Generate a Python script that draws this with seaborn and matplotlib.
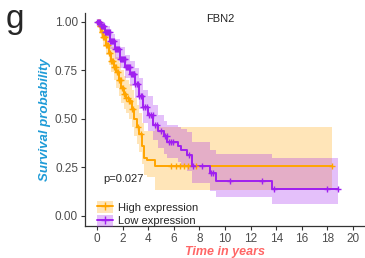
import numpy as np
import matplotlib
matplotlib.use("Agg")
import matplotlib.pyplot as plt
import seaborn as sns
from matplotlib.patches import Patch
from matplotlib.lines import Line2D

# Kaplan-Meier curves (FBN2)
high_t = [0, 0.15, 0.3, 0.5, 0.7, 0.9, 1.1, 1.3, 1.5, 1.7, 1.9, 2.1, 2.3, 2.5, 2.7, 2.9, 3.1, 3.3, 3.5, 3.7, 3.9, 4.5]
high_s = [1.0, 0.98, 0.95, 0.92, 0.88, 0.84, 0.80, 0.77, 0.74, 0.70, 0.66, 0.63, 0.61, 0.59, 0.55, 0.50, 0.46, 0.42, 0.36, 0.30, 0.29, 0.256]
high_lo = [1.0, 0.95, 0.91, 0.87, 0.83, 0.78, 0.74, 0.70, 0.66, 0.62, 0.58, 0.55, 0.53, 0.50, 0.46, 0.41, 0.37, 0.33, 0.27, 0.21, 0.20, 0.135]
high_hi = [1.0, 1.0, 0.99, 0.97, 0.94, 0.91, 0.87, 0.85, 0.82, 0.79, 0.75, 0.72, 0.70, 0.68, 0.65, 0.61, 0.57, 0.53, 0.48, 0.44, 0.44, 0.46]
high_end = 18.4
high_cens = [0.05, 0.12, 0.2, 0.27, 0.35, 0.42, 0.5, 0.58, 0.65, 0.72, 0.8, 0.88, 0.95, 1.02, 1.1,
             1.18, 1.25, 1.32, 1.4, 1.48, 1.55, 1.62, 1.7, 1.78, 1.85, 1.92, 2.0, 2.1, 2.2, 2.3,
             2.4, 2.5, 2.6, 2.7, 2.8, 3.2, 3.45, 5.8, 6.2, 6.5, 6.8, 7.1, 7.7, 18.4]

low_t = [0, 0.3, 0.6, 1.0, 1.4, 1.8, 2.2, 2.6, 3.0, 3.3, 3.6, 4.0, 4.4, 4.8, 5.2, 5.5, 6.3, 6.6, 7.0, 7.4, 8.8, 9.3, 13.7]
low_s = [1.0, 0.98, 0.95, 0.90, 0.86, 0.81, 0.77, 0.73, 0.68, 0.62, 0.56, 0.52, 0.47, 0.44, 0.41, 0.38, 0.36, 0.34, 0.315, 0.255, 0.22, 0.18, 0.14]
low_lo = [1.0, 0.96, 0.92, 0.86, 0.81, 0.76, 0.71, 0.67, 0.61, 0.55, 0.48, 0.44, 0.39, 0.35, 0.32, 0.30, 0.28, 0.26, 0.23, 0.17, 0.13, 0.10, 0.06]
low_hi = [1.0, 1.0, 0.98, 0.94, 0.91, 0.87, 0.83, 0.80, 0.76, 0.71, 0.65, 0.62, 0.57, 0.52, 0.49, 0.47, 0.46, 0.45, 0.43, 0.38, 0.34, 0.32, 0.30]
low_end = 18.8
low_cens = [0.03, 0.1, 0.17, 0.24, 0.31, 0.38, 0.45, 0.52, 0.6, 0.68, 0.75, 0.82, 0.9, 0.98, 1.05,
            1.12, 1.2, 1.28, 1.35, 1.42, 1.5, 1.58, 1.65, 1.72, 1.8, 1.88, 1.95, 2.02, 2.1, 2.18,
            2.25, 2.32, 2.4, 2.48, 2.55, 2.62, 2.7, 2.78, 2.85, 2.92, 3.0, 3.1, 3.2, 3.3, 3.4,
            3.5, 3.6, 3.75, 3.9, 4.05, 4.2, 4.35, 4.5, 4.7, 5.0, 5.3, 5.45, 5.6, 5.75, 5.9,
            7.2, 7.5, 8.2, 8.9, 9.1, 10.4, 12.9, 13.8, 18.0, 18.8]

groups = ["High expression", "Low expression"]
line_cols = ["#FFA500", "#A020F0"]
x_ticks = [0, 2, 4, 6, 8, 10, 12, 14, 16, 18, 20]
y_ticks = [0, 0.25, 0.5, 0.75, 1.0]

sns.set_style("white")
plt.rcParams['font.family'] = ['Liberation Sans', 'DejaVu Sans']

fig = plt.figure(figsize=(3.65, 2.58), dpi=100)
ax = fig.add_axes([85/365, 1 - 226/258, 280/365, 213/258])

curves = [(high_t, high_s, high_lo, high_hi, high_end, high_cens),
          (low_t, low_s, low_lo, low_hi, low_end, low_cens)]

for (t, s, lo, hi, end, cens), col in zip(curves, line_cols):
    tt = np.array(t + [end])
    ss = np.array(s + [s[-1]])
    ll = np.array(lo + [lo[-1]])
    hh = np.array(hi + [hi[-1]])
    ax.fill_between(tt, ll, hh, step='post', color=col, alpha=0.28, linewidth=0)
    sns.lineplot(x=tt, y=ss, drawstyle='steps-post', color=col, linewidth=1.4,
                 estimator=None, ax=ax)
    idx = np.searchsorted(tt, cens, side='right') - 1
    sns.scatterplot(x=cens, y=ss[idx], marker='+', s=22, color=col, linewidth=1.0, ax=ax, zorder=3)

ax.set_xlim(-0.94, 20.94)
ax.set_ylim(-0.052, 1.046)
ax.set_xticks(x_ticks)
ax.set_yticks(y_ticks)
ax.set_yticklabels(["%.2f" % v for v in y_ticks])
ax.tick_params(axis='both', colors='#333333', labelcolor='#4D4D4D', labelsize=8.5,
               length=3, width=0.8, pad=2, direction='out')
ax.tick_params(left=True, bottom=True)
for side in ['top', 'right']:
    ax.spines[side].set_visible(False)
for side in ['left', 'bottom']:
    ax.spines[side].set_color('#333333')
    ax.spines[side].set_linewidth(0.9)

ax.set_xlabel("Time in years", color='#FF6666', fontsize=9, fontweight='bold',
              fontstyle='italic', labelpad=0.5)
ax.set_ylabel("Survival probability", color='#1E9BD7', fontsize=9.5, fontweight='bold',
              fontstyle='italic', labelpad=3)

ax.text(0.484, 0.972, "FBN2", transform=ax.transAxes, ha='center', va='center', fontsize=8)
ax.text(0.064, 0.221, "p=0.027", transform=ax.transAxes, ha='left', va='center', fontsize=8)
fig.text(6/365, 1 - 28/258, "g", fontsize=24, va='baseline', ha='left')

handles = []
for col in line_cols:
    handles.append((Patch(facecolor=col, alpha=0.28, edgecolor='none'),
                    Line2D([], [], color=col, linewidth=1.4, marker='+', markersize=6)))
ax.legend(handles, groups, loc='lower left', bbox_to_anchor=(0.02, -0.035), frameon=False,
          fontsize=8, handlelength=1.4, handleheight=1.3, handletextpad=0.5,
          labelspacing=0.15, borderaxespad=0.2)

fig.savefig("out.png", dpi=100)
